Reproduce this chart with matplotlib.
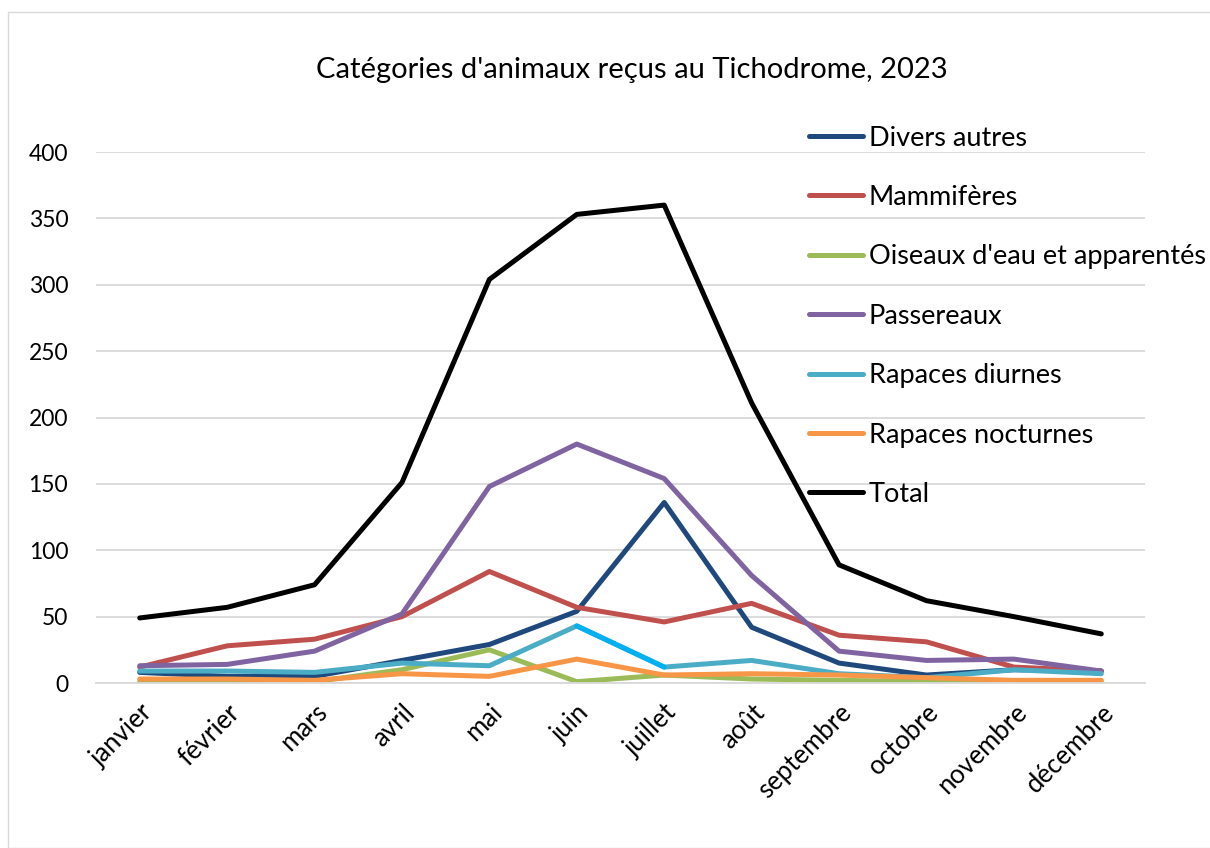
import matplotlib.pyplot as plt
from matplotlib.patches import Rectangle

# ---------------- data ----------------
mois = ["janvier", "février", "mars", "avril", "mai", "juin",
        "juillet", "août", "septembre", "octobre", "novembre", "décembre"]

divers_autres = [8, 5, 5, 17, 29, 54, 136, 42, 15, 6, 10, 9]
mammiferes = [12, 28, 33, 50, 84, 57, 46, 60, 36, 31, 12, 9]
oiseaux_eau = [1, 1, 1, 10, 25, 1, 6, 3, 2, 1, 1, 1]
passereaux = [13, 14, 24, 52, 148, 180, 154, 81, 24, 17, 18, 9]
rapaces_diurnes = [9, 9, 8, 15, 13, 43, 12, 17, 7, 4, 10, 7]
rapaces_nocturnes = [3, 3, 2, 7, 5, 18, 6, 7, 6, 4, 2, 2]
total = [49, 57, 74, 151, 304, 353, 360, 211, 89, 62, 50, 37]

series = [
    ("Divers autres", divers_autres, "#1F497D"),
    ("Mammifères", mammiferes, "#C0504D"),
    ("Oiseaux d'eau et apparentés", oiseaux_eau, "#9BBB59"),
    ("Passereaux", passereaux, "#8064A2"),
    ("Rapaces diurnes", rapaces_diurnes, "#4BACC6"),
    ("Rapaces nocturnes", rapaces_nocturnes, "#F79646"),
    ("Total", total, "#000000"),
]

plt.rcParams['font.family'] = ['Lato', 'DejaVu Sans']

fig = plt.figure(figsize=(12.1, 8.48), dpi=100)
ax = fig.add_axes([96 / 1210, 1 - 683 / 848, (1145 - 96) / 1210, (683 - 152) / 848])

x = list(range(len(mois)))
for name, vals, col in series:
    ax.plot(x, vals, color=col, linewidth=3.6, label=name,
            solid_capstyle="round", solid_joinstyle="round")

# highlighted segment juin -> juillet (rapaces diurnes)
ax.plot(x[5:7], rapaces_diurnes[5:7], color="#00B0F0", linewidth=3.6,
        solid_capstyle="round")

ax.set_xlim(-0.5, len(mois) - 0.5)
ax.set_ylim(0, 400)
ax.set_yticks(range(0, 401, 50))
ax.grid(axis="y", color="#D9D9D9", linewidth=1.3)
ax.set_axisbelow(True)
for s in ["top", "right", "left"]:
    ax.spines[s].set_visible(False)
ax.spines["bottom"].set_color("#D9D9D9")
ax.spines["bottom"].set_linewidth(1.3)
ax.tick_params(length=0, colors="black")
ax.tick_params(axis="y", labelsize=16.5, pad=20)
ax.tick_params(axis="x", labelsize=18.5, pad=12)
ax.set_xticks(x)
ax.set_xticklabels(mois, rotation=45, ha="right", rotation_mode="anchor")

fig.text(0.522, 1 - 70 / 848, "Catégories d'animaux reçus au Tichodrome, 2023",
         ha="center", va="center", fontsize=21)

ax.legend(loc="upper left", bbox_to_anchor=(795 / 1210, 1 - 112 / 848),
          bbox_transform=fig.transFigure, frameon=False, fontsize=19.5,
          handlelength=2.0, handletextpad=0.22, labelspacing=1.27, borderpad=0)

fig.patches.append(Rectangle((8 / 1210, 0), 1.2, 1 - 12 / 848,
                             transform=fig.transFigure, fill=False,
                             edgecolor="#D9D9D9", linewidth=1))

fig.savefig("out.png", dpi=100)
